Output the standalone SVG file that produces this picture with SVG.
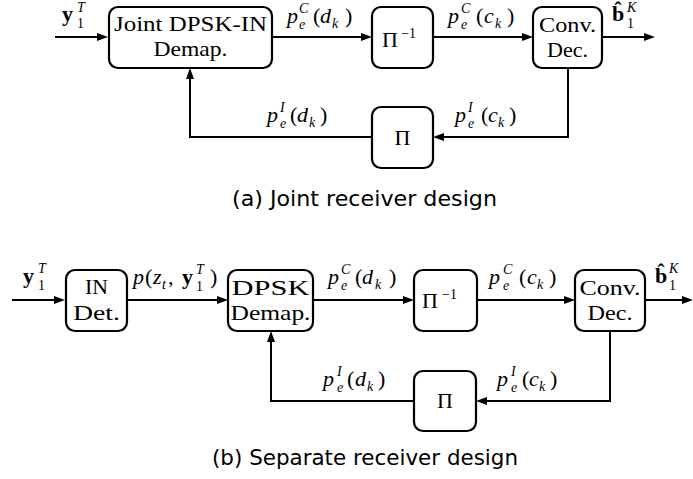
<svg xmlns="http://www.w3.org/2000/svg" width="693" height="479" viewBox="0 0 693 479">
<style>
.box{fill:#fff;stroke:#000;stroke-width:2.2}
.ln{fill:none;stroke:#000;stroke-width:2;marker-end:url(#ah)}
.bt{font-family:"Liberation Serif","DejaVu Serif",serif;font-size:22px;text-anchor:middle;fill:#000}
.m{font-family:"Liberation Serif","DejaVu Serif",serif;font-size:22px;fill:#000}
.i{font-style:italic}
.b{font-weight:bold}
.s{font-size:14px}
.cap{font-family:"DejaVu Sans",sans-serif;font-size:21px;text-anchor:middle;fill:#000}
</style>
<defs>
<marker id="ah" markerUnits="userSpaceOnUse" viewBox="0 0 11 8" refX="8" refY="4" markerWidth="11" markerHeight="8" orient="auto">
<path d="M0,0 L11,4 L0,8 z" fill="#000"/>
</marker>
</defs>

<!-- (a) Joint receiver design -->
<g id="a-joint"><rect class="box" x="109" y="7" width="163" height="61" rx="9"/>
<text class="bt" x="190.5" y="31" textLength="153" lengthAdjust="spacingAndGlyphs">Joint DPSK-IN</text>
<text class="bt" x="190.5" y="56" textLength="74" lengthAdjust="spacingAndGlyphs">Demap.</text></g>
<g id="a-deint"><rect class="box" x="372" y="7" width="61" height="61" rx="9"/>
<text class="m"><tspan x="382" y="47">Π</tspan><tspan class="s" x="401" y="38">−1</tspan></text></g>
<g id="a-dec"><rect class="box" x="533" y="7" width="69" height="61" rx="9"/>
<text class="bt" x="567.5" y="32" textLength="57" lengthAdjust="spacingAndGlyphs">Conv.</text>
<text class="bt" x="567.5" y="57" textLength="41" lengthAdjust="spacingAndGlyphs">Dec.</text></g>
<g id="a-int"><rect class="box" x="372" y="107" width="61" height="61" rx="9"/>
<text class="bt" x="402.5" y="145">Π</text></g>

<g id="a-connectors">
<path class="ln" d="M55,37 H105"/>
<path class="ln" d="M272,37 H369"/>
<path class="ln" d="M433,37 H530"/>
<path class="ln" d="M602,37 H652"/>
<path class="ln" d="M568,68 V137 H436"/>
<path class="ln" d="M372,137 H190 V71"/>
</g>

<g id="a-labels">
<text class="m"><tspan class="b" x="62" y="21">y</tspan><tspan class="s i" x="77" y="12">T</tspan><tspan class="s" x="77" y="28">1</tspan></text>
<text class="m"><tspan class="i" x="287" y="23">p</tspan><tspan class="s i" x="299" y="13">C</tspan><tspan class="s i" x="299" y="29">e</tspan><tspan x="313" y="23">(</tspan><tspan class="i" x="320" y="23">d</tspan><tspan class="s i" x="332" y="28">k</tspan><tspan x="345" y="23">)</tspan></text>
<text class="m"><tspan class="i" x="448" y="23">p</tspan><tspan class="s i" x="461" y="13">C</tspan><tspan class="s i" x="461" y="29">e</tspan><tspan x="476" y="23">(</tspan><tspan class="i" x="484" y="23">c</tspan><tspan class="s i" x="495" y="28">k</tspan><tspan x="507" y="23">)</tspan></text>
<text class="m"><tspan class="b" x="612" y="21">b̂</tspan><tspan class="s i" x="627" y="12">K</tspan><tspan class="s" x="627" y="28">1</tspan></text>
<text class="m"><tspan class="i" x="267" y="122">p</tspan><tspan class="s i" x="280" y="112">I</tspan><tspan class="s i" x="280" y="128">e</tspan><tspan x="290" y="122">(</tspan><tspan class="i" x="297" y="122">d</tspan><tspan class="s i" x="309" y="127">k</tspan><tspan x="320" y="122">)</tspan></text>
<text class="m"><tspan class="i" x="455" y="122">p</tspan><tspan class="s i" x="468" y="112">I</tspan><tspan class="s i" x="468" y="128">e</tspan><tspan x="481" y="122">(</tspan><tspan class="i" x="488" y="122">c</tspan><tspan class="s i" x="498" y="127">k</tspan><tspan x="509" y="122">)</tspan></text>
</g>
<text class="cap" x="364.5" y="206" textLength="265" lengthAdjust="spacingAndGlyphs">(a) Joint receiver design</text>

<!-- (b) Separate receiver design -->
<g id="b-indet"><rect class="box" x="66" y="270" width="61" height="61" rx="9"/>
<text class="bt" x="96.5" y="294" textLength="23" lengthAdjust="spacingAndGlyphs">IN</text>
<text class="bt" x="96.5" y="320" textLength="47" lengthAdjust="spacingAndGlyphs">Det.</text></g>
<g id="b-demap"><rect class="box" x="228" y="270" width="85" height="61" rx="9"/>
<text class="bt" x="270.5" y="295" textLength="78" lengthAdjust="spacingAndGlyphs">DPSK</text>
<text class="bt" x="270.5" y="320" textLength="80" lengthAdjust="spacingAndGlyphs">Demap.</text></g>
<g id="b-deint"><rect class="box" x="414" y="270" width="63" height="61" rx="9"/>
<text class="m"><tspan x="422" y="308">Π</tspan><tspan class="s" x="442" y="299">−1</tspan></text></g>
<g id="b-dec"><rect class="box" x="575" y="270" width="70" height="61" rx="9"/>
<text class="bt" x="610" y="295" textLength="61" lengthAdjust="spacingAndGlyphs">Conv.</text>
<text class="bt" x="610" y="320" textLength="45" lengthAdjust="spacingAndGlyphs">Dec.</text></g>
<g id="b-int"><rect class="box" x="414" y="371" width="62" height="60" rx="9"/>
<text class="bt" x="445" y="408">Π</text></g>

<g id="b-connectors">
<path class="ln" d="M12,300 H62"/>
<path class="ln" d="M127,300 H225"/>
<path class="ln" d="M313,300 H411"/>
<path class="ln" d="M477,300 H572"/>
<path class="ln" d="M645,300 H690"/>
<path class="ln" d="M610,331 V401 H479"/>
<path class="ln" d="M414,401 H271 V334"/>
</g>

<g id="b-labels">
<text class="m"><tspan class="b" x="23" y="283">y</tspan><tspan class="s i" x="38" y="273">T</tspan><tspan class="s" x="38" y="290">1</tspan></text>
<text class="m"><tspan class="i" x="133" y="284">p</tspan><tspan x="145" y="284">(</tspan><tspan class="i" x="153" y="284">z</tspan><tspan class="s i" x="162" y="289">t</tspan><tspan x="168" y="284">,</tspan><tspan class="b" x="182" y="284">y</tspan><tspan class="s i" x="196" y="274">T</tspan><tspan class="s" x="196" y="291">1</tspan><tspan x="210" y="284">)</tspan></text>
<text class="m"><tspan class="i" x="328" y="284">p</tspan><tspan class="s i" x="341" y="274">C</tspan><tspan class="s i" x="341" y="290">e</tspan><tspan x="355" y="284">(</tspan><tspan class="i" x="362" y="284">d</tspan><tspan class="s i" x="375" y="289">k</tspan><tspan x="389" y="284">)</tspan></text>
<text class="m"><tspan class="i" x="489" y="284">p</tspan><tspan class="s i" x="503" y="274">C</tspan><tspan class="s i" x="503" y="290">e</tspan><tspan x="519" y="284">(</tspan><tspan class="i" x="527" y="284">c</tspan><tspan class="s i" x="537" y="289">k</tspan><tspan x="549" y="284">)</tspan></text>
<text class="m"><tspan class="b" x="655" y="283">b̂</tspan><tspan class="s i" x="669" y="273">K</tspan><tspan class="s" x="669" y="290">1</tspan></text>
<text class="m"><tspan class="i" x="323" y="386">p</tspan><tspan class="s i" x="337" y="376">I</tspan><tspan class="s i" x="337" y="392">e</tspan><tspan x="347" y="386">(</tspan><tspan class="i" x="355" y="386">d</tspan><tspan class="s i" x="367" y="391">k</tspan><tspan x="378" y="386">)</tspan></text>
<text class="m"><tspan class="i" x="497" y="386">p</tspan><tspan class="s i" x="511" y="376">I</tspan><tspan class="s i" x="511" y="392">e</tspan><tspan x="522" y="386">(</tspan><tspan class="i" x="529" y="386">c</tspan><tspan class="s i" x="539" y="391">k</tspan><tspan x="550" y="386">)</tspan></text>
</g>
<text class="cap" x="365" y="465" textLength="306" lengthAdjust="spacingAndGlyphs">(b) Separate receiver design</text>
</svg>
